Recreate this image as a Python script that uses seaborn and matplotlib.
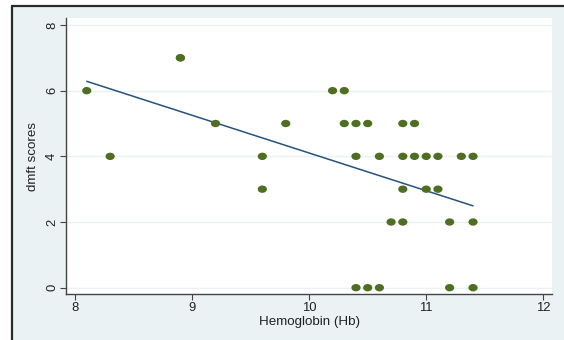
import matplotlib
matplotlib.use("Agg")
import matplotlib.pyplot as plt
import matplotlib.patches as patches
from matplotlib.path import Path
import seaborn as sns
import pandas as pd

# Hemoglobin vs dmft scores
# (8.9, 7) appears twice: overlapping markers, implied by the fitted line
hb = [8.1, 8.3, 8.9, 8.9, 9.2, 9.6, 9.6, 9.8,
      10.2, 10.3, 10.3, 10.4, 10.5, 10.4, 10.6,
      10.8, 10.9, 10.8, 10.9, 11.0, 11.1, 11.3, 11.4,
      10.8, 11.0, 11.1,
      10.7, 10.8, 11.2, 11.4,
      10.4, 10.5, 10.6, 11.2, 11.4]
dmft = [6, 4, 7, 7, 5, 4, 3, 5,
        6, 6, 5, 5, 5, 4, 4,
        5, 5, 4, 4, 4, 4, 4, 4,
        3, 3, 3,
        2, 2, 2, 2,
        0, 0, 0, 0, 0]
x_ticks = [8, 9, 10, 11, 12]
y_ticks = [0, 2, 4, 6, 8]

df = pd.DataFrame({"hb": hb, "dmft": dmft})

sns.set_style("white")
plt.rcParams["font.family"] = ["Liberation Sans", "DejaVu Sans"]

bg = "#EAF2F3"
fig = plt.figure(figsize=(5.64, 3.4), dpi=100)
fig.patch.set_facecolor("white")

# outer stata-like panel with dark frame on top/left
fig.add_artist(patches.Rectangle((0.0207, 0.0), 1.0, 0.983, transform=fig.transFigure,
                                 facecolor=bg, edgecolor="none", zorder=0))
fig.add_artist(plt.Line2D([0.0207, 1.0], [0.983, 0.983], transform=fig.transFigure,
                          color="#2b2b2b", lw=1.6, zorder=1))
fig.add_artist(plt.Line2D([0.0207, 0.0207], [0.0, 0.983], transform=fig.transFigure,
                          color="#2b2b2b", lw=1.6, zorder=1))

ax = fig.add_axes([0.1179, 0.1353, 0.8603, 0.8109])
ax.set_facecolor("white")

for yt in y_ticks:
    ax.axhline(yt, color=bg, lw=1.0, zorder=0)

# slightly wide dot, as in the (stretched) reference
circ = Path.unit_circle()
oval = Path(circ.vertices * [1.25, 1.0], circ.codes)

sns.regplot(data=df, x="hb", y="dmft", ci=None, ax=ax, marker=oval,
            scatter_kws={"s": 44, "color": "#4E6E22", "edgecolors": "none", "alpha": 1, "zorder": 3},
            line_kws={"color": "#25527F", "lw": 1.1, "zorder": 2})

ax.set_xlim(7.927, 12.072)
ax.set_ylim(-0.192, 8.204)
ax.set_xticks(x_ticks)
ax.set_yticks(y_ticks)
ax.set_yticklabels([str(t) for t in y_ticks], rotation=90, va="center")
ax.set_xlabel("Hemoglobin (Hb)", fontsize=9.6, color="#222222", labelpad=1)
ax.set_ylabel("dmft scores", fontsize=9.6, color="#222222", labelpad=5)
ax.tick_params(axis="both", direction="out", length=4, width=0.8, color="#444444",
               labelsize=9.4, labelcolor="#222222", pad=2)
ax.tick_params(bottom=True, left=True)

sns.despine(ax=ax)
for s in ["left", "bottom"]:
    ax.spines[s].set_color("#444444")
    ax.spines[s].set_linewidth(1.0)

fig.savefig("out.png", dpi=100, facecolor=fig.get_facecolor())
